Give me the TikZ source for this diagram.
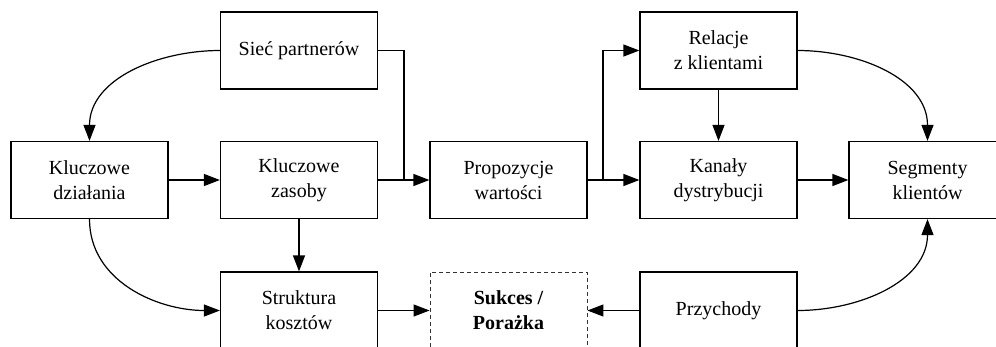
\documentclass[tikz,border=0pt]{standalone}
\usepackage{fontspec}
\setmainfont{Liberation Serif}
\usetikzlibrary{arrows.meta}
\begin{document}
\begin{tikzpicture}[x=1pt,y=-1pt,
  box/.style={draw, line width=1.2pt, rectangle, minimum width=157pt, minimum height=77pt, align=center, inner sep=0pt, font=\fontsize{20}{25}\selectfont},
  dbox/.style={box, draw=black!80, line width=0.9pt, dash pattern=on 4pt off 3pt, font=\fontsize{20}{25}\selectfont\bfseries},
  arr/.style={line width=1.2pt, -{Triangle[length=16pt,width=12pt]}},
  ln/.style={line width=1.2pt}]
\useasboundingbox (0,0) rectangle (996,346);
\clip (0,0) rectangle (996,346);
\node[box] (sp) at (299,50.5) {Sieć partnerów};
\node[box] (kd) at (89.5,180) {Kluczowe\\działania};
\node[box] (kz) at (299,180) {Kluczowe\\zasoby};
\node[box] (pw) at (508.5,180) {Propozycje\\wartości};
\node[box] (rk) at (718.5,50.5) {Relacje\\z klientami};
\node[box] (kn) at (718.5,180) {Kanały\\dystrybucji};
\node[box] (sk) at (927.5,180) {Segmenty\\klientów};
\node[box] (st) at (299,310.5) {Struktura\\kosztów};
\node[dbox] (su) at (508.5,310.5) {Sukces /\\Porażka};
\node[box] (pr) at (718.5,310.5) {Przychody};
\coordinate (j1) at (404,180);
\coordinate (j2) at (603,180);
\draw[arr] (sp.west) to[out=180,in=90] (kd.north);
\draw[ln] (sp.east) -| (j1);
\draw[arr] (kd.east) -- (kz.west);
\draw[arr] (kz.east) -- (pw.west);
\draw[arr] (pw.east) -- (kn.west);
\draw[arr] (j2) |- (rk.west);
\draw[arr] (rk.south) -- (kn.north);
\draw[arr] (rk.east) to[out=0,in=90] (sk.north);
\draw[arr] (kn.east) -- (sk.west);
\draw[arr] (kd.south) to[out=-90,in=180] (st.west);
\draw[arr] (kz.south) -- (st.north);
\draw[arr] (st.east) -- (su.west);
\draw[arr] (pr.west) -- (su.east);
\draw[arr] (pr.east) to[out=0,in=-90] (sk.south);
\end{tikzpicture}
\end{document}
